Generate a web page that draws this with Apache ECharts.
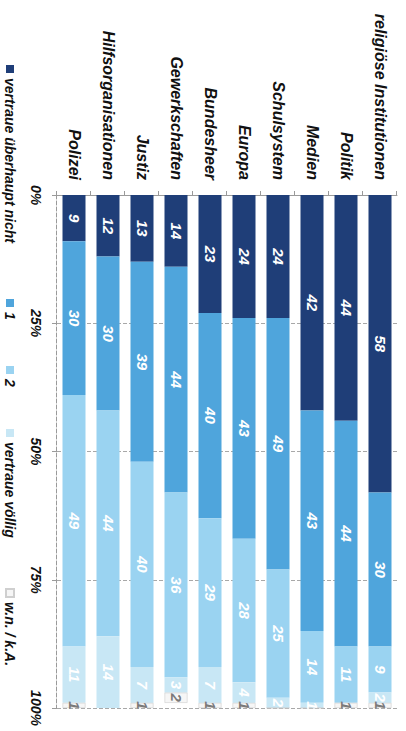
<!DOCTYPE html>
<html>
<head>
<meta charset="utf-8">
<script src="https://cdn.jsdelivr.net/npm/echarts@6/dist/echarts.min.js"></script>
<style>
  html, body { margin: 0; padding: 0; background: #fff; width: 406px; height: 731px; overflow: hidden; }
  /* the chart is laid out horizontally, then turned a quarter clockwise */
  #chart {
    position: absolute; left: 0; top: 0;
    width: 731px; height: 406px;
    transform-origin: 0 0;
    transform: translate(406px, 0) rotate(90deg);
  }
</style>
</head>
<body>
<div id="chart"></div>
<script>
// Vertrauen in Institutionen, Anteile in Prozent
const categories = ['Polizei', 'Hilfsorganisationen', 'Justiz', 'Gewerkschaften', 'Bundesheer',
  'Europa', 'Schulsystem', 'Medien', 'Politik', 'religiöse Institutionen'];
const seriesNames = ['vertraue überhaupt nicht', '1', '2', 'vertraue völlig', 'w.n. / k.A.'];
const vertraueUeberhauptNicht = [9, 12, 13, 14, 23, 24, 24, 42, 44, 58];
const stufe1 = [30, 30, 39, 44, 40, 43, 49, 43, 44, 30];
const stufe2 = [49, 44, 40, 36, 29, 28, 25, 14, 11, 9];
const vertraueVoellig = [11, 14, 7, 3, 7, 4, 2, 1, 0, 2];
const wnKA = [1, 1, 1, 2, 1, 1, 0, 0, 1, 1];
const tickLabels = ['0%', '25%', '50%', '75%', '100%'];

const colors = ['#1f3e78', '#4fa5dc', '#9ad3f1', '#c8e7f5', '#f6f6f6'];
const labelColors = ['#fff', '#fff', '#fff', '#fff', '#7a7a7a'];
const values = [vertraueUeberhauptNicht, stufe1, stufe2, vertraueVoellig, wnKA];
const font = "'Liberation Sans', Arial, sans-serif";

const chart = echarts.init(document.getElementById('chart'), null, { renderer: 'svg' });

const series = seriesNames.map((name, i) => ({
  name: name,
  type: 'bar',
  stack: 'total',
  barWidth: 23,
  data: values[i],
  itemStyle: i === 4 ? { color: colors[i], borderColor: '#cfcfcf', borderWidth: 0.6 } : { color: colors[i] },
  label: {
    show: true,
    position: 'inside',
    color: labelColors[i],
    fontFamily: font,
    fontSize: 15,
    fontWeight: 'bold',
    fontStyle: 'italic',
    formatter: p => (p.value ? String(p.value) : '')
  },
  emphasis: { disabled: true }
}));

// one legend per entry so each can sit at its own spot along the bottom
const legendLeft = [65, 299, 366, 429, 588];
const legends = seriesNames.map((name, i) => ({
  data: [name],
  left: legendLeft[i],
  top: 389,
  padding: 0,
  itemWidth: 8,
  itemHeight: 8,
  itemGap: 0,
  icon: 'rect',
  textStyle: { fontFamily: font, fontSize: 14, fontWeight: 'bold', fontStyle: 'italic', color: '#111' },
  selectedMode: false
}));

chart.setOption({
  animation: false,
  backgroundColor: '#fff',
  legend: legends,
  grid: { left: 195, right: 23, top: 9, bottom: 57, containLabel: false },
  xAxis: {
    type: 'value',
    min: 0,
    max: 100,
    interval: 25,
    axisLine: { show: true, lineStyle: { color: '#9a9a9a', type: 'dashed', width: 1 } },
    axisTick: { show: true, length: 5, lineStyle: { color: '#9a9a9a' } },
    splitLine: { show: true, lineStyle: { color: '#a8a8a8', type: 'dashed', width: 1 } },
    axisLabel: {
      margin: 14,
      fontFamily: font, fontSize: 14, fontWeight: 'bold', fontStyle: 'italic', color: '#111',
      formatter: v => tickLabels[Math.round(v / 25)]
    }
  },
  yAxis: {
    type: 'category',
    data: categories,
    axisLine: { show: true, lineStyle: { color: '#9a9a9a', width: 1 } },
    axisTick: { show: true, length: 4, lineStyle: { color: '#9a9a9a' } },
    axisLabel: {
      margin: 15,
      fontFamily: font, fontSize: 16, fontWeight: 'bold', fontStyle: 'italic', color: '#111'
    }
  },
  series: series
});
</script>
</body>
</html>
